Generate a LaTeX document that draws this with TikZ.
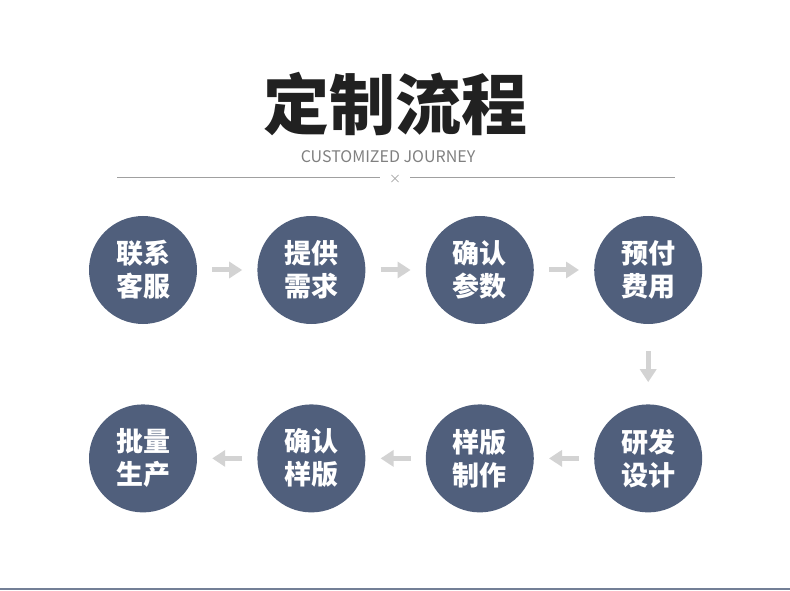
\documentclass[tikz,border=0pt]{standalone}
\usepackage{fontspec}
\setmainfont{Noto Sans CJK SC}
\usepackage{tikz}
\usetikzlibrary{arrows.meta, positioning}
\definecolor{stepblue}{HTML}{505F7C}
\definecolor{arrowgray}{HTML}{D3D3D3}
\definecolor{rulegray}{HTML}{A0A0A0}

\begin{document}
\begin{tikzpicture}[x=1pt, y=1pt, node distance=60pt,
		stepnode/.style={circle, fill=stepblue, text=white, minimum size=108pt, inner sep=0pt,
		align=center, font=\bfseries\fontsize{27}{33}\selectfont},
		flow/.style={draw=arrowgray, line width=5pt, -{Triangle[length=13pt, width=16pt]},
		shorten <=15pt, shorten >=15pt}]
			\useasboundingbox (0,0) rectangle (790,590);
			\node (title) at (395,486) [text=black!87] {\bfseries\fontsize{66}{66}\selectfont 定制流程};
			\node (subtitle) at (388,433) [text=black!50, font=\fontsize{16}{16}\selectfont] {CUSTOMIZED JOURNEY};
			\node (cross) at (395,411) [text=rulegray, inner xsep=9pt, font=\fontsize{12}{12}\selectfont] {×};
			\coordinate (ruleL) at (117,413);
			\coordinate (ruleR) at (675,413);
			\draw [rulegray, line width=0.8pt] (ruleL) -- (cross.west |- ruleL);
			\draw [rulegray, line width=0.8pt] (cross.east |- ruleR) -- (ruleR);

			\node (contact) at (143,320) [stepnode] {联系\\客服};
			\node (demand) [right=of contact, stepnode] {提供\\需求};
			\node (params) [right=of demand, stepnode] {确认\\参数};
			\node (prepay) [right=of params, stepnode] {预付\\费用};
			\node (design) [below=80pt of prepay, stepnode] {研发\\设计};
			\node (sample) [left=of design, stepnode] {样版\\制作};
			\node (confirm) [left=of sample, stepnode] {确认\\样版};
			\node (batch) [left=of confirm, stepnode] {批量\\生产};

			\draw [flow] (contact) -- (demand);
			\draw [flow] (demand) -- (params);
			\draw [flow] (params) -- (prepay);
			\draw [flow, shorten <=27pt, shorten >=22pt] (prepay) -- (design);
			\draw [flow] (design) -- (sample);
			\draw [flow] (sample) -- (confirm);
			\draw [flow] (confirm) -- (batch);

			\coordinate (baseL) at (0,1);
			\coordinate (baseR) at (790,1);
			\draw [stepblue!80, line width=2pt] (baseL) -- (baseR);
		\end{tikzpicture}
\end{document}
